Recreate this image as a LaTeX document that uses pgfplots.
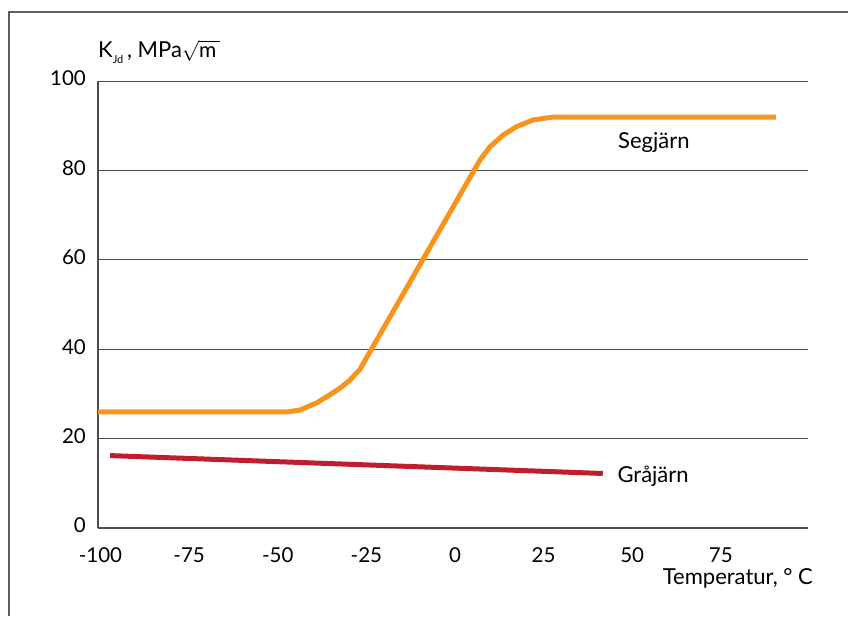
\documentclass[border=0pt]{standalone}
\usepackage{pgfplots}
\pgfplotsset{compat=1.18}
\usepackage{fontspec}
\setmainfont{Lato}
\definecolor{orangeline}{HTML}{F7941D}
\definecolor{redline}{HTML}{BE1E2D}
\definecolor{gridc}{HTML}{4D4D4D}
\begin{document}
\fontsize{22}{26}\selectfont
\begin{tikzpicture}
\useasboundingbox (0,0) rectangle (848pt,-616pt);
\draw[gridc!90, line width=1.6pt] (9pt,-616pt) -- (9pt,-12pt) -- (848pt,-12pt);
\begin{axis}[
  at={(98pt,-528pt)}, anchor=south west,
  scale only axis, width=710pt, height=447pt,
  xmin=-100.7, xmax=99.6, ymin=0, ymax=100,
  axis lines*=left, axis line style={-, gridc, line width=1.4pt},
  xtick={-100,-75,...,75}, ytick={0,20,...,100},
  ymajorgrids, grid style={gridc, line width=1pt},
  major tick length=0pt,
  tick label style={font=\fontsize{20.5}{24}\selectfont, inner sep=0pt, /pgf/number format/assume math mode=true},
  xticklabel style={anchor=base, yshift=-34pt},
  yticklabel style={anchor=east, xshift=-12pt, yshift=2.5pt},
  clip=false,
]
\addplot[orangeline, line width=5pt, line join=round] coordinates {
  (-100.7,26) (-47,26) (-43.7,26.4) (-39.0,28.0) (-35.3,29.8) (-32.4,31.3)
  (-29.6,33.1) (-26.8,35.5) (7.05,82.3) (9.9,85.3) (13.6,87.9) (17.4,89.8)
  (22.1,91.3) (27.3,91.9) (90.5,91.9)
};
\addplot[redline, line width=5pt] coordinates {
  (-97.3,16.2) (41.7,12.2)
};
\node[anchor=base, inner sep=0pt] at (axis cs:56.1,84.9) {Segjärn};
\node[anchor=base, inner sep=0pt] at (axis cs:55.9,10.1) {Gråjärn};
\end{axis}
\node[anchor=base west, inner sep=0pt] at (98pt,-57.3pt) {K\raisebox{-6pt}{\fontsize{11}{13}\selectfont Jd}\,, MPa{\fontsize{21}{25}\selectfont$\sqrt{\mbox{m}\,}$}};
\node[anchor=base east, inner sep=0pt] at (813pt,-584pt) {Temperatur, ° C};
\end{tikzpicture}
\end{document}
